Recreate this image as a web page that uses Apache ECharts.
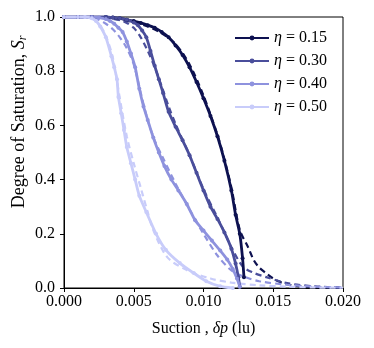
<!DOCTYPE html>
<html>
<head>
<meta charset="utf-8">
<script src="https://cdn.jsdelivr.net/npm/echarts@6/dist/echarts.min.js"></script>
<style>
  html, body { margin: 0; padding: 0; background: #fff; }
  #chart { width: 374px; height: 348px; }
</style>
</head>
<body>
<div id="chart"></div>
<script>
// legend names (eta values)
var etaNames = ['η = 0.15', 'η = 0.30', 'η = 0.40', 'η = 0.50'];
var colors = ['#0d1150', '#4a4e9b', '#8e92de', '#c8ccfa'];

// simulated curves (solid with markers)
var sim15X = [0, 0.001, 0.002, 0.003, 0.0035, 0.004, 0.0045, 0.005, 0.0055, 0.006, 0.0065, 0.007, 0.0075, 0.008, 0.0085, 0.009, 0.0095, 0.010, 0.0105, 0.011, 0.0115, 0.012, 0.0123, 0.0126, 0.0128, 0.0129];
var sim15Y = [1, 1, 1, 1, 0.998, 0.995, 0.99, 0.985, 0.978, 0.97, 0.96, 0.945, 0.925, 0.895, 0.86, 0.815, 0.76, 0.70, 0.635, 0.56, 0.47, 0.36, 0.27, 0.2, 0.11, 0.04];

var sim30X = [0, 0.001, 0.002, 0.003, 0.0035, 0.004, 0.0045, 0.005, 0.0053, 0.0056, 0.0059, 0.0062, 0.0065, 0.0068, 0.0071, 0.0075, 0.008, 0.0085, 0.009, 0.0095, 0.010, 0.0105, 0.011, 0.0115, 0.012, 0.0123, 0.0125, 0.0126];
var sim30Y = [1, 1, 1, 1, 0.998, 0.995, 0.99, 0.98, 0.97, 0.95, 0.925, 0.875, 0.82, 0.77, 0.72, 0.65, 0.595, 0.545, 0.49, 0.425, 0.36, 0.3, 0.255, 0.205, 0.145, 0.09, 0.04, 0.005];

var sim40X = [0, 0.001, 0.002, 0.0025, 0.003, 0.0033, 0.0036, 0.0039, 0.0042, 0.0045, 0.0048, 0.0051, 0.0054, 0.0057, 0.006, 0.0064, 0.0068, 0.0072, 0.0077, 0.0082, 0.0088, 0.0094, 0.010, 0.0106, 0.0112, 0.0117, 0.0121, 0.0124, 0.0126];
var sim40Y = [1, 1, 1, 0.998, 0.993, 0.985, 0.975, 0.96, 0.945, 0.91, 0.865, 0.815, 0.735, 0.67, 0.62, 0.555, 0.5, 0.45, 0.4, 0.36, 0.31, 0.25, 0.212, 0.175, 0.138, 0.105, 0.07, 0.035, 0.005];

var sim50X = [0, 0.001, 0.0015, 0.002, 0.0023, 0.0026, 0.003, 0.0034, 0.0036, 0.0038, 0.0039, 0.0041, 0.0043, 0.0045, 0.0048, 0.0051, 0.0054, 0.0059, 0.0066, 0.0073, 0.0083, 0.0093, 0.0102, 0.0112, 0.0121];
var sim50Y = [1, 1, 1, 0.995, 0.985, 0.965, 0.925, 0.855, 0.815, 0.77, 0.705, 0.645, 0.583, 0.52, 0.46, 0.40, 0.34, 0.28, 0.2, 0.141, 0.092, 0.055, 0.025, 0.006, 0];

// fitted curves (dashed)
var fit15X = [0, 0.002, 0.003, 0.004, 0.005, 0.006, 0.007, 0.008, 0.009, 0.010, 0.011, 0.0115, 0.012, 0.0126, 0.0132, 0.0136, 0.014, 0.0145, 0.015, 0.0155, 0.016, 0.017, 0.018, 0.019, 0.020];
var fit15Y = [1, 1, 0.998, 0.99, 0.98, 0.965, 0.94, 0.9, 0.825, 0.71, 0.565, 0.475, 0.37, 0.215, 0.15, 0.103, 0.075, 0.054, 0.035, 0.022, 0.014, 0.006, 0.003, 0.001, 0];

var fit30X = [0, 0.002, 0.003, 0.0035, 0.004, 0.0045, 0.005, 0.0055, 0.006, 0.0065, 0.007, 0.0075, 0.008, 0.009, 0.010, 0.011, 0.0115, 0.012, 0.0128, 0.0135, 0.0145, 0.016, 0.018, 0.020];
var fit30Y = [1, 1, 0.997, 0.993, 0.988, 0.978, 0.96, 0.925, 0.875, 0.815, 0.745, 0.67, 0.605, 0.49, 0.365, 0.26, 0.205, 0.15, 0.08, 0.058, 0.04, 0.018, 0.006, 0.002];

var fit40X = [0, 0.0015, 0.002, 0.0025, 0.003, 0.0035, 0.004, 0.0045, 0.005, 0.0055, 0.006, 0.0065, 0.007, 0.008, 0.009, 0.010, 0.011, 0.012, 0.013, 0.014, 0.016, 0.018, 0.020];
var fit40Y = [1, 1, 0.998, 0.99, 0.975, 0.955, 0.925, 0.885, 0.825, 0.72, 0.62, 0.545, 0.49, 0.385, 0.29, 0.2, 0.12, 0.065, 0.04, 0.025, 0.012, 0.005, 0.002];

var fit50X = [0, 0.0015, 0.002, 0.0025, 0.003, 0.0035, 0.004, 0.0045, 0.005, 0.0055, 0.006, 0.0064, 0.0074, 0.0088, 0.0105, 0.012, 0.014, 0.016, 0.018, 0.020];
var fit50Y = [1, 1, 0.995, 0.975, 0.93, 0.85, 0.7, 0.56, 0.46, 0.37, 0.28, 0.214, 0.114, 0.066, 0.035, 0.02, 0.01, 0.005, 0.002, 0.001];

var xTicks = [0, 0.005, 0.010, 0.015, 0.020];
var yTicks = [0, 0.2, 0.4, 0.6, 0.8, 1.0];

function pairs(xs, ys) {
  return xs.map(function (x, i) { return [x, ys[i]]; });
}

var simSets = [[sim15X, sim15Y], [sim30X, sim30Y], [sim40X, sim40Y], [sim50X, sim50Y]];
var fitSets = [[fit15X, fit15Y], [fit30X, fit30Y], [fit40X, fit40Y], [fit50X, fit50Y]];

var font = 'Liberation Serif';
var series = [];
fitSets.forEach(function (s, i) {
  series.push({
    name: 'fit' + i,
    type: 'line',
    data: pairs(s[0], s[1]),
    showSymbol: false,
    smooth: 0.3,
    lineStyle: { color: colors[i], width: 2.2, type: [6, 4] },
    itemStyle: { color: colors[i] },
    z: 2,
    silent: true
  });
});
simSets.forEach(function (s, i) {
  series.push({
    name: etaNames[i],
    type: 'line',
    data: pairs(s[0], s[1]),
    symbol: 'circle',
    symbolSize: 4,
    smooth: 0.2,
    lineStyle: { color: colors[i], width: 2.8 },
    itemStyle: { color: colors[i] },
    z: 3
  });
});

var chart = echarts.init(document.getElementById('chart'));
chart.setOption({
  animation: false,
  backgroundColor: '#fff',
  grid: { left: 64, right: 31, top: 17, bottom: 60, show: true, borderColor: '#000', borderWidth: 1, backgroundColor: 'transparent' },
  legend: {
    data: etaNames,
    left: 229,
    top: 25,
    orient: 'vertical',
    itemWidth: 34,
    itemHeight: 6,
    itemGap: 7,
    itemTextGap: 12,
    formatter: function (name) { return '{i|η}' + name.slice(1); },
    textStyle: {
      fontFamily: font, fontSize: 16, color: '#000',
      rich: { i: { fontFamily: font, fontSize: 16, fontStyle: 'italic', color: '#000' } }
    }
  },
  xAxis: {
    type: 'value',
    min: 0, max: 0.02, interval: 0.005,
    name: '{n|Suction , }{i|δp}{n| (lu)}',
    nameLocation: 'middle',
    nameGap: 33,
    nameTextStyle: {
      rich: {
        n: { fontFamily: font, fontSize: 16, color: '#000' },
        i: { fontFamily: font, fontSize: 16, fontStyle: 'italic', color: '#000' }
      }
    },
    axisLine: { lineStyle: { color: '#000', width: 1 } },
    axisTick: { length: 4, lineStyle: { color: '#000' } },
    axisLabel: { color: '#000', fontFamily: font, fontSize: 16, margin: 6,
      formatter: function (v) { return v.toFixed(3); } },
    splitLine: { show: false }
  },
  yAxis: {
    type: 'value',
    min: 0, max: 1, interval: 0.2,
    axisLine: { lineStyle: { color: '#000', width: 1 } },
    axisTick: { length: 4, lineStyle: { color: '#000' } },
    axisLabel: { color: '#000', fontFamily: font, fontSize: 16, margin: 9,
      formatter: function (v) { return v.toFixed(1); } },
    splitLine: { show: false }
  },
  graphic: [{
    type: 'text',
    x: 19, y: 122,
    rotation: Math.PI / 2,
    style: {
      text: '{n|Degree of Saturation, }{s|S}{r|r}',
      align: 'center',
      verticalAlign: 'middle',
      rich: {
        n: { fontFamily: font, fontSize: 18, fill: '#000' },
        s: { fontFamily: font, fontSize: 18, fontStyle: 'italic', fill: '#000' },
        r: { fontFamily: font, fontSize: 12, fontStyle: 'italic', fill: '#000', verticalAlign: 'bottom', padding: [7, 0, 0, 0] }
      }
    }
  }],
  series: series
});
window.addEventListener('resize', function () { chart.resize(); });
</script>
</body>
</html>
